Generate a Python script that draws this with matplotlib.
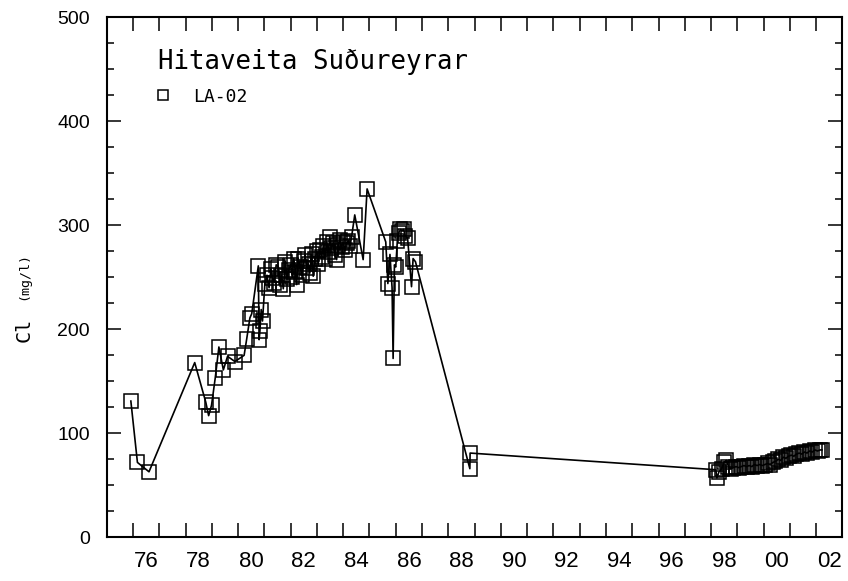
import matplotlib
matplotlib.use('Agg')
import matplotlib.pyplot as plt
from matplotlib.lines import Line2D
from matplotlib.ticker import MultipleLocator, FixedLocator, FixedFormatter

# sampling dates (decimal years) and chloride (mg/l) for well LA-02
years = [
    1975.92, 1976.17, 1976.61, 1978.35, 1978.77, 1978.88, 1978.99, 1979.13,
    1979.27, 1979.44, 1979.60, 1979.88, 1980.23, 1980.33, 1980.45, 1980.52,
    1980.77, 1980.80, 1980.83, 1980.88, 1980.93, 1981.02, 1981.10, 1981.18,
    1981.25, 1981.31, 1981.38, 1981.45, 1981.53, 1981.60, 1981.66, 1981.72,
    1981.80, 1981.86, 1981.92, 1982.00, 1982.06, 1982.12, 1982.18, 1982.23,
    1982.29, 1982.36, 1982.42, 1982.50, 1982.56, 1982.62, 1982.68, 1982.73,
    1982.80, 1982.86, 1982.92, 1983.00, 1983.05, 1983.11, 1983.18, 1983.24,
    1983.30, 1983.37, 1983.43, 1983.49, 1983.55, 1983.62, 1983.68, 1983.75,
    1983.81, 1983.87, 1983.94, 1984.00, 1984.06, 1984.13, 1984.20, 1984.26,
    1984.32, 1984.44, 1984.76, 1984.91, 1985.62, 1985.70, 1985.78, 1985.86,
    1985.90, 1985.95, 1986.00, 1986.06, 1986.12, 1986.18, 1986.24, 1986.30,
    1986.36, 1986.45, 1986.60, 1986.66, 1986.75, 1988.82, 1988.83,
    1998.18, 1998.22, 1998.30, 1998.40, 1998.50, 1998.58, 1998.66, 1998.75,
    1998.85, 1998.95, 1999.05, 1999.15, 1999.25, 1999.35, 1999.45, 1999.55,
    1999.65, 1999.75, 1999.85, 1999.95, 2000.05, 2000.15, 2000.25, 2000.35,
    2000.45, 2000.55, 2000.65, 2000.75, 2000.85, 2000.95, 2001.05, 2001.15,
    2001.25, 2001.35, 2001.45, 2001.55, 2001.65, 2001.75, 2001.85, 2001.95,
    2002.05, 2002.15, 2002.22,
]
chloride = [
    131, 72, 63, 168, 130, 117, 127, 153,
    183, 161, 174, 169, 175, 191, 211, 215,
    261, 190, 198, 219, 208, 244, 252, 240,
    258, 249, 245, 262, 260, 243, 252, 239,
    265, 248, 257, 262, 250, 268, 255, 243,
    268, 260, 252, 266, 271, 259, 263, 254,
    272, 251, 268, 275, 263, 276, 270, 280,
    268, 284, 274, 289, 278, 283, 271, 267,
    281, 286, 279, 284, 276, 283, 285, 280,
    289, 310, 267, 335, 284, 244, 272, 240,
    172, 262, 260, 285, 293, 296, 295, 296,
    290, 288, 241, 268, 265, 66, 81,
    65, 57, 63, 66, 72, 74, 68, 66,
    67, 68, 67, 68, 69, 68, 69, 68,
    70, 69, 70, 69, 70, 71, 70, 72,
    73, 75, 74, 77, 76, 78, 79, 78,
    80, 81, 80, 82, 81, 83, 82, 84,
    83, 84, 84,
]

year_labels = ['76', '78', '80', '82', '84', '86', '88', '90', '92', '94',
               '96', '98', '00', '02']
label_pos = [1976.5 + 2 * i for i in range(len(year_labels))]

title = 'Hitaveita Suðureyrar'
well = 'LA-02'

fig = plt.figure(figsize=(8.48, 5.81), dpi=100)
ax = fig.add_axes([0.1258, 0.0752, 0.8677, 0.895])

ax.plot(years, chloride, color='black', lw=1.2, marker='s', ms=9.4,
        mfc='none', mec='black', mew=1.1, label=well)

ax.set_xlim(1975, 2003)
ax.set_ylim(0, 500)

# year boundaries get the ticks, labels sit in the middle of the year
ax.xaxis.set_major_locator(MultipleLocator(1))
ax.xaxis.set_major_formatter(plt.NullFormatter())
ax.xaxis.set_minor_locator(FixedLocator(label_pos))
ax.xaxis.set_minor_formatter(FixedFormatter(year_labels))
ax.tick_params(axis='x', which='major', direction='in', length=10, width=1.1,
               top=True, bottom=True)
ax.tick_params(axis='x', which='minor', length=0, pad=10, labelsize=16)

ax.yaxis.set_major_locator(MultipleLocator(100))
ax.yaxis.set_minor_locator(MultipleLocator(25))
ax.tick_params(axis='y', which='major', direction='in', length=10, width=1.1,
               left=True, right=True, pad=12, labelsize=14)
ax.tick_params(axis='y', which='minor', direction='in', length=5, width=1.1,
               left=True, right=True)

for lab in ax.get_xticklabels(minor=True) + ax.get_yticklabels():
    lab.set_fontfamily('Liberation Sans')

for sp in ax.spines.values():
    sp.set_linewidth(1.5)

ax.text(0.0697, 0.9, title, transform=ax.transAxes, family='DejaVu Sans Mono',
        fontsize=18.5, va='baseline', ha='left')

handle = Line2D([], [], ls='none', marker='s', ms=6.5, mfc='none', mec='black',
                mew=1.1)
ax.legend([handle], [well], loc='upper left', bbox_to_anchor=(0.064, 0.865),
          frameon=False, borderpad=0, borderaxespad=0, handlelength=1.0,
          handletextpad=1.2, prop={'family': 'DejaVu Sans Mono', 'size': 13})

fig.text(0.028, 0.432, 'Cl', rotation=90, family='DejaVu Sans Mono',
         fontsize=14.5, ha='center', va='center')
fig.text(0.028, 0.525, '(mg/l)', rotation=90, family='DejaVu Sans Mono',
         fontsize=9.5, ha='center', va='center')

fig.savefig('out.png', dpi=100)
